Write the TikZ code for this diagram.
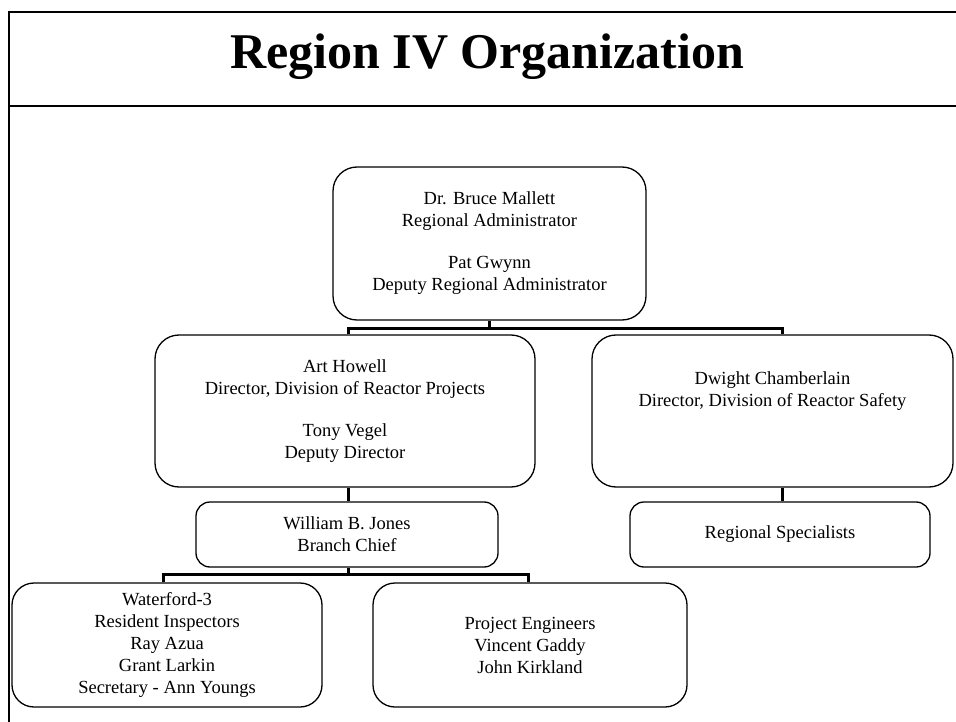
\documentclass[tikz,border=0pt]{standalone}
\usepackage{fontspec}
\setmainfont{Liberation Serif}
\begin{document}
\begin{tikzpicture}[x=1pt,y=-1pt,
  orgbox/.style={draw=black, line width=1.3pt, rounded corners=24pt, align=center,
    inner sep=0pt, font=\fontsize{18.5}{22}\selectfont},
  smallbox/.style={orgbox, rounded corners=14pt},
  conn/.style={draw=black, line width=3pt, line cap=butt},
  frameline/.style={draw=black, line width=2pt}]
\useasboundingbox (0,0) rectangle (956,722);
\fill[white] (0,0) rectangle (956,722);
% frame
\coordinate (ftl) at (9,12);
\coordinate (ftr) at (956,12);
\coordinate (fbl) at (9,722);
\coordinate (fml) at (9,106);
\coordinate (fmr) at (956,106);
\draw[frameline, line width=2.6pt] (ftr) -- (ftl) -- (fbl);
\draw[frameline, line width=1.6pt] (fml) -- (fmr);
\node[font=\fontsize{50}{56}\selectfont\bfseries, anchor=base, inner sep=0pt] (title) at (487,69) {Region IV Organization};
% boxes
\node[orgbox, minimum width=313pt, minimum height=153pt] (top) at (489.5,243.5)
  {Dr. Bruce Mallett\\Regional Administrator\\[20pt]Pat Gwynn\\Deputy Regional Administrator};
\node[orgbox, minimum width=380pt, minimum height=152pt] (how) at (345,411)
  {Art Howell\\Director, Division of Reactor Projects\\[20pt]Tony Vegel\\Deputy Director};
\node[orgbox, minimum width=361pt, minimum height=152pt] (cham) at (772.5,411)
  {Dwight Chamberlain\\Director, Division of Reactor Safety\\~\\~};
\node[smallbox, minimum width=302pt, minimum height=65pt] (jones) at (347,534.5)
  {William B. Jones\\Branch Chief};
\node[smallbox, minimum width=300pt, minimum height=65pt] (spec) at (780,534.5)
  {Regional Specialists};
\node[orgbox, rounded corners=22pt, minimum width=310pt, minimum height=124pt] (water) at (167,645)
  {Waterford-3\\Resident Inspectors\\Ray Azua\\Grant Larkin\\Secretary - Ann Youngs};
\node[orgbox, rounded corners=22pt, minimum width=314pt, minimum height=124pt] (proj) at (530,645)
  {Project Engineers\\Vincent Gaddy\\John Kirkland};
% connectors
\coordinate (busA) at (489.5,328);
\coordinate (busB) at (348,574);
\draw[conn] (top.south) -- (busA);
\draw[conn] ([xshift=3pt]how.north) |- (busA) -| ([xshift=9.5pt]cham.north);
\draw[conn] ([xshift=3pt]how.south) -- ([xshift=1pt]jones.north);
\draw[conn] ([xshift=9.5pt]cham.south) -- ([xshift=2pt]spec.north);
\draw[conn] ([xshift=1pt]jones.south) -- (busB);
\draw[conn] ([xshift=-4pt]water.north) |- (busB) -| ([xshift=-2pt]proj.north);
\end{tikzpicture}
\end{document}
